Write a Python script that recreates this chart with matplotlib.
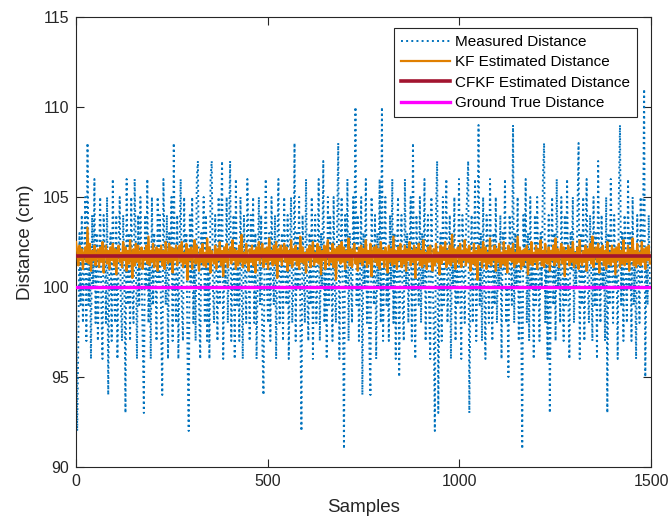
import numpy as np
import matplotlib
matplotlib.use("Agg")
import matplotlib.pyplot as plt

plt.rcParams['font.family'] = ['Liberation Sans', 'DejaVu Sans']

# sample spacing used for the hand-read series
step = 3

# Measured distance (cm) (integer readings)
measured = [
    100, 92, 97, 103, 99, 104, 98, 101, 105, 97,
    108, 99, 102, 96, 104, 100, 106, 98, 103, 97,
    101, 105, 99, 96, 104, 102, 98, 105, 94, 101,
    103, 97, 106, 100, 98, 104, 96, 102, 105, 99,
    97, 104, 101, 93, 106, 99, 103, 97, 105, 100,
    98, 106, 102, 96, 104, 99, 105, 101, 97, 93,
    104, 100, 106, 98, 102, 96, 105, 99, 103, 101,
    97, 105, 100, 104, 98, 94, 106, 102, 99, 104,
    96, 103, 101, 105, 97, 108, 100, 98, 104, 96,
    102, 106, 99, 97, 105, 101, 103, 96, 92, 104,
    100, 105, 98, 102, 97, 106, 107, 99, 96, 103,
    101, 105, 98, 104, 97, 102, 96, 106, 107, 100,
    98, 104, 101, 97, 105, 99, 103, 107, 96, 102,
    100, 105, 98, 103, 107, 97, 101, 104, 96, 106,
    99, 102, 97, 105, 100, 96, 104, 101, 98, 106,
    102, 97, 104, 100, 105, 98, 103, 96, 101, 105,
    99, 104, 97, 94, 102, 106, 100, 98, 103, 97,
    105, 101, 99, 104, 96, 102, 106, 98, 100, 103,
    97, 105, 101, 99, 104, 96, 102, 105, 98, 100,
    108, 97, 103, 100, 105, 99, 92, 104, 101, 98,
    106, 100, 97, 103, 99, 105, 96, 102, 104, 98,
    101, 106, 97, 103, 100, 107, 98, 102, 96, 105,
    99, 104, 101, 97, 105, 100, 98, 103, 108, 96,
    102, 105, 99, 91, 104, 100, 106, 97, 103, 101,
    98, 105, 102, 110, 99, 104, 97, 101, 105, 94,
    103, 100, 106, 98, 102, 97, 94, 105, 101, 99,
    104, 96, 103, 100, 106, 98, 110, 97, 102, 105,
    99, 101, 97, 104, 100, 106, 98, 103, 96, 102,
    105, 95, 101, 104, 99, 97, 106, 100, 103, 98,
    102, 105, 97, 108, 100, 96, 104, 101, 99, 105,
    98, 103, 100, 106, 97, 102, 104, 99, 96, 105,
    101, 98, 92, 104, 107, 93, 100, 103, 97, 105,
    99, 102, 106, 98, 101, 104, 96, 103, 100, 105,
    97, 102, 99, 106, 100, 96, 104, 101, 98, 103,
    105, 107, 93, 100, 104, 98, 102, 106, 97, 101,
    109, 99, 103, 97, 105, 100, 96, 104, 102, 98,
    106, 101, 97, 103, 99, 105, 98, 102, 100, 104,
    96, 103, 101, 106, 98, 100, 95, 104, 102, 99,
    109, 98, 103, 100, 105, 97, 102, 99, 91, 104,
    101, 106, 98, 103, 97, 105, 100, 102, 96, 104,
    99, 105, 101, 97, 103, 100, 106, 108, 98, 102,
    96, 104, 93, 101, 105, 99, 103, 97, 106, 100,
    102, 98, 105, 101, 97, 104, 99, 106, 100, 96,
    103, 101, 105, 98, 102, 100, 104, 108, 96, 103,
    99, 105, 97, 102, 106, 100, 98, 104, 101, 97,
    105, 99, 103, 96, 107, 101, 98, 104, 100, 102,
    97, 105, 93, 103, 99, 106, 101, 98, 104, 100,
    102, 96, 105, 109, 99, 103, 97, 104, 101, 98,
    106, 100, 103, 97, 105, 99, 102, 96, 104, 101,
    98, 105, 100, 103, 111, 95, 102, 99, 104, 100,
]

# KF estimate, stored as offsets (tenths of cm) from kf_base
kf_base = 101.7
kf_tenths = [
    8, 3, -5, 6, -2, 4, -7, 2, 5, -3,
    16, -4, 7, -8, 3, -2, 6, -5, 1, 4,
    -6, 5, -3, 8, -9, 2, 6, -4, 3, -7,
    5, -2, 7, -5, 4, -10, 3, 6, -3, 2,
    -6, 8, -2, 5, -8, 3, -4, 9, -1, -12,
    4, -5, 7, -3, 6, -6, 2, 5, -7, 3,
    -2, 6, -4, 11, -5, 3, -3, 7, -6, 2,
    5, -8, 4, -2, 6, -5, 3, -7, 8, -1,
    -4, 7, -3, 5, -9, 4, -2, 6, -5, 3,
    6, -3, 8, -6, 2, -4, 7, -13, 4, -2,
    5, -7, 3, 9, -4, 6, -2, -8, 4, -3,
    7, -5, 2, -6, 10, -3, 5, -9, 3, -1,
    -4, 6, -7, 4, -2, 8, -5, 3, -11, 5,
    -3, 7, -6, 2, 5, -4, 9, -2, 4, -7,
    3, -5, 6, -3, 12, -6, 2, -4, 7, -2,
    -8, 4, -3, 6, -5, 3, -9, 5, -2, 8,
    -4, 2, 7, -6, 4, -3, 5, -7, 10, -2,
    3, -5, 6, -4, 8, -12, 4, -2, 6, -5,
    2, 7, -3, 5, -8, 3, -4, 9, -6, 4,
    -2, 6, -5, 3, -7, 11, -3, 5, -4, 2,
    -9, 4, -2, 6, -6, 3, 8, -5, 2, -3,
    7, -4, 5, -10, 3, -2, 6, -7, 4, 9,
    -5, 2, -3, 7, -6, 4, -13, 5, -2, 6,
    -4, 8, -3, 5, -7, 3, -2, 10, -5, 4,
    -6, 3, 7, -4, 2, -8, 5, -3, 6, -5,
    4, -2, 9, -6, 3, -4, 7, -11, 2, 5,
    -3, 6, -5, 4, -7, 8, -2, 3, -6, 5,
    2, -9, 6, -3, 4, -5, 11, -4, 3, -7,
    5, -2, 7, -6, 3, -4, 6, -8, 4, -2,
    8, -5, 3, -3, 6, -12, 4, -2, 7, -5,
    3, -6, 9, -4, 2, -7, 5, -3, 6, -2,
    -8, 4, -5, 7, -3, 2, -10, 6, -4, 5,
    -2, 8, -6, 3, -4, 6, -5, 12, -3, 4,
    -7, 2, 5, -4, 7, -6, 3, -2, 9, -5,
    4, -3, 6, -8, 2, -4, 7, -5, 3, -13,
    6, -2, 4, -6, 8, -3, 5, -7, 2, -4,
    10, -5, 3, -2, 6, -8, 4, -3, 7, -6,
    2, -4, 8, -5, 3, -9, 6, -2, 4, -3,
    7, -6, 2, -4, 11, -3, 5, -7, 3, -5,
    4, -2, 6, -10, 3, -4, 8, -5, 2, -3,
    6, -7, 4, -2, 9, -5, 3, -6, 7, -3,
    -4, 5, -8, 3, -2, 6, -5, 10, -3, 4,
    -6, 2, 7, -4, 5, -11, 3, -2, 6, -5,
    4, -3, 8, -6, 2, -4, 5, -7, 9, -2,
    -5, 3, -3, 6, -8, 4, -2, 7, -4, 11,
    -6, 2, 5, -3, 7, -9, 4, -2, 6, -5,
    3, -7, 8, -4, 2, -5, 6, -3, 4, -10,
    5, -2, 7, -6, 3, -4, 9, -5, 2, -3,
    6, -8, 4, -2, 10, -5, 3, -6, 7, -4,
    2, -5, 8, -3, 4, -7, 5, -2, 6, -4,
]

cfkf_x = [0, 1500]
cfkf_y = [101.7, 101.7]
truth_x = [0, 1500]
truth_y = [100.0, 100.0]

x_ticks = [0, 500, 1000, 1500]
y_ticks = [90, 95, 100, 105, 110, 115]

labels = ['Measured Distance', 'KF Estimated Distance',
          'CFKF Estimated Distance', 'Ground True Distance']

meas = np.array(measured, dtype=float)
xs = np.arange(len(meas)) * step
kf = kf_base + np.array(kf_tenths) / 10.0

fig = plt.figure(figsize=(6.68, 5.22), dpi=100)
ax = fig.add_axes([0.1138, 0.1054, 0.8608, 0.8620])

ax.plot(xs, meas, linestyle=':', color='#0072BD', linewidth=1.4, label=labels[0], zorder=2)
ax.plot(xs, kf, linestyle='-', color='#E07F00', linewidth=1.6, label=labels[1], zorder=3)
ax.plot(cfkf_x, cfkf_y, linestyle='-', color='#A2142F', linewidth=2.6, label=labels[2], zorder=4)
ax.plot(truth_x, truth_y, linestyle='-', color='#FF00FF', linewidth=2.4, label=labels[3], zorder=5)

ax.set_xlim(0, 1500)
ax.set_ylim(90, 115)
ax.set_xticks(x_ticks)
ax.set_yticks(y_ticks)

dark = '#262626'
for s in ax.spines.values():
    s.set_color(dark)
    s.set_linewidth(0.8)
ax.tick_params(direction='in', length=6, width=0.8, colors=dark, labelsize=11.5,
               top=True, right=True, labelcolor=dark, pad=5)
ax.set_xlabel('Samples', fontsize=13.5, color=dark, labelpad=7)
ax.set_ylabel('Distance (cm)', fontsize=13.5, color=dark, labelpad=6)

leg = ax.legend(loc='upper right', bbox_to_anchor=(0.9757, 0.9756), borderaxespad=0,
                fancybox=False, framealpha=1, edgecolor=dark, fontsize=11,
                handlelength=3.2, handletextpad=0.35, labelspacing=0.42,
                borderpad=0.45)
leg.get_frame().set_linewidth(0.8)

fig.savefig('out.png', dpi=100)
